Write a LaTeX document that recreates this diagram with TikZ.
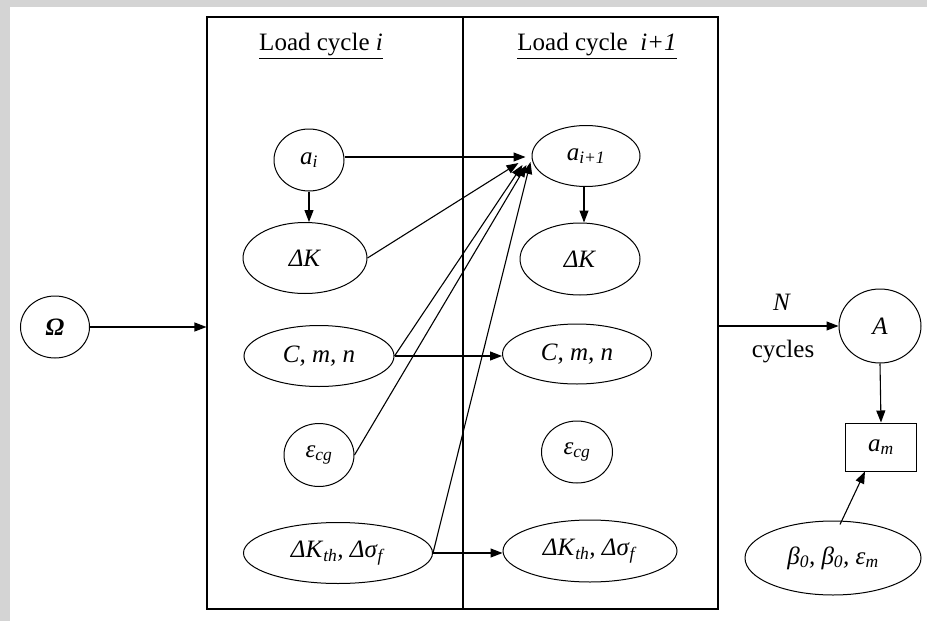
\documentclass[tikz,border=0pt]{standalone}
\usepackage{fontspec}
\setmainfont{Liberation Serif}
\usetikzlibrary{shapes.geometric,arrows.meta}
\begin{document}
\begin{tikzpicture}[x=1pt,y=-1pt,
  every node/.style={font=\fontsize{25}{29}\selectfont},
  ell/.style={draw,ellipse,line width=1pt,inner sep=0pt},
  arr/.style={line width=1.1pt,-{Triangle[length=12pt,width=9pt]}},
  ln/.style={line width=1.1pt}]
\useasboundingbox (0,0) rectangle (927,621);
\fill[black!17] (0,0) rectangle (927,7);
\fill[black!17] (0,0) rectangle (10,621);
% big box
\node[draw,line width=1.1pt,minimum width=511pt,minimum height=592pt,inner sep=0pt] (box) at (462.5,313) {};
\coordinate (dt) at (463,17);
\coordinate (db) at (463,609);
\draw[ln] (dt) -- (db);
\node (t1) at (321,46) {\underline{Load cycle \textit{i}}};
\node (t2) at (597,46) {\underline{Load cycle\ \ \textit{i+1}}};
% left column
\node[ell,minimum width=70pt,minimum height=62pt] (ai) at (309,160) {\textit{a}\textsubscript{\textit{i}}};
\node[ell,minimum width=124pt,minimum height=71pt] (dk1) at (305,258) {\textit{ΔK}\hspace{14pt}};
\node[ell,minimum width=150pt,minimum height=61pt] (cmn1) at (319,356) {\textit{C, m, n}\hspace{12pt}};
\node[ell,minimum width=70pt,minimum height=63pt] (ecg1) at (319,455) {\textit{ε}\textsubscript{\textit{cg}}};
\node[ell,minimum width=189pt,minimum height=61pt] (dth1) at (338,553) {\textit{ΔK}\textsubscript{\textit{th}}\textit{, Δσ}\textsubscript{\textit{f}}\hspace{6pt}};
% right column
\node[ell,minimum width=108pt,minimum height=61pt] (a1) at (586,156) {\textit{a}\textsubscript{\textit{i+1}}\hspace{8pt}};
\node[ell,minimum width=120pt,minimum height=72pt] (dk2) at (580,259) {\textit{ΔK}\hspace{10pt}};
\node[ell,minimum width=149pt,minimum height=60pt] (cmn2) at (577,354) {\textit{C, m, n}\hspace{10pt}};
\node[ell,minimum width=71pt,minimum height=62pt] (ecg2) at (577,452) {\textit{ε}\textsubscript{\textit{cg}}};
\node[ell,minimum width=174pt,minimum height=62pt] (dth2) at (590,551) {\textit{ΔK}\textsubscript{\textit{th}}\textit{, Δσ}\textsubscript{\textit{f}}\hspace{6pt}};
% outer nodes
\node[ell,minimum width=69pt,minimum height=62pt] (om) at (55,327) {\textbf{\textit{Ω}}};
\node[ell,minimum width=82pt,minimum height=74pt] (A) at (880,326) {\textit{A}};
\node[draw,line width=1pt,minimum width=71pt,minimum height=48pt,inner sep=0pt] (am) at (881,447) {\textit{a}\textsubscript{\textit{m}}};
\node[ell,minimum width=176pt,minimum height=74pt] (beta) at (833,558) {\textit{β}\textsubscript{\textit{0}}\textit{, β}\textsubscript{\textit{0}}\textit{, ε}\textsubscript{\textit{m}}};
\node (N) at (782,302) {\textit{N}};
\node (cyc) at (783,352) {cycles};
% connectors
\draw[arr] ([yshift=3pt]ai.east) -- ([xshift=-6pt,yshift=-1pt]a1.west);
\draw[arr] (ai.south) -- (dk1.north -| ai.south);
\draw[arr] (a1.south -| 584,0) -- (dk2.north -| 584,0);
\draw[arr] (dk1.east) -- ([xshift=-13pt,yshift=-7pt]a1.west);
\draw[arr] (cmn1.east) -- ([xshift=-9pt,yshift=-9pt]a1.west);
\draw[arr] (ecg1.east) -- ([xshift=-5pt,yshift=-9pt]a1.west);
\draw[arr] (dth1.east) -- ([xshift=-1pt,yshift=-6pt]a1.west);
\draw[arr] (cmn1.east) -- (cmn1.east -| cmn2.west);
\draw[arr] (dth1.east) -- (dth1.east -| dth2.west);
\draw[arr] (om.east) -- (om.east -| box.west);
\draw[arr] (A.west -| box.east) -- (A.west);
\draw[arr] (A.south) -- (am.north);
\draw[arr] ([xshift=7pt,yshift=-4pt]beta.north) -- ([xshift=-16pt]am.south);
\end{tikzpicture}
\end{document}
